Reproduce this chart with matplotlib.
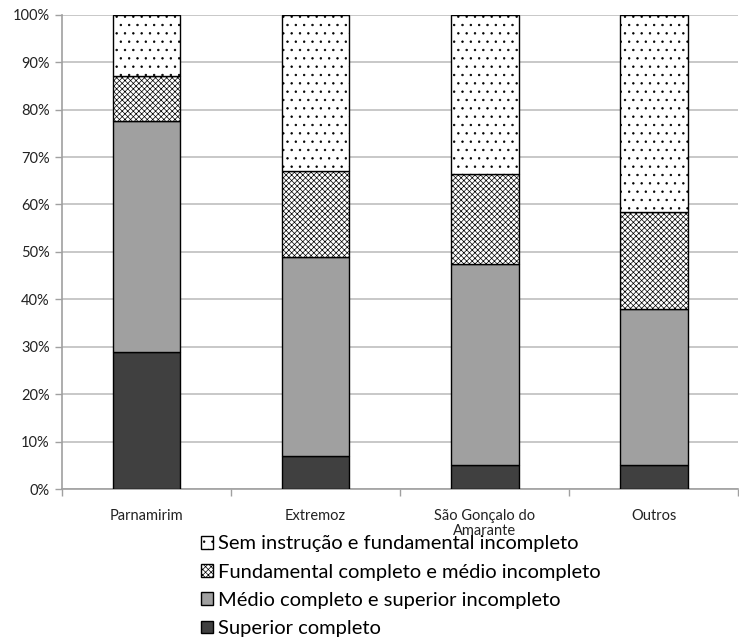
import matplotlib
matplotlib.use("Agg")
import matplotlib.pyplot as plt
import numpy as np

categories = ["Parnamirim", "Extremoz", "São Gonçalo do\nAmarante", "Outros"]
superior = [29.0, 7.0, 5.0, 5.0]
medio = [48.5, 42.0, 42.5, 33.0]
fundamental = [9.5, 18.0, 19.0, 20.5]
sem = [13.0, 33.0, 33.5, 41.5]

series_labels = ["Superior completo", "Médio completo e superior incompleto",
                 "Fundamental completo e médio incompleto",
                 "Sem instrução e fundamental incompleto"]

plt.rcParams['font.family'] = ['Lato', 'DejaVu Sans']
plt.rcParams['hatch.linewidth'] = 0.5

fig = plt.figure(figsize=(7.39, 6.41), dpi=100)
ax = fig.add_axes([0.084, 0.237, 0.915, 0.740])

x = np.arange(len(categories))
w = 0.4
bottom = np.zeros(len(categories))
styles = [dict(color="#404040", hatch=None),
          dict(color="#A0A0A0", hatch=None),
          dict(color="white", hatch="xxxxxx"),
          dict(color="white", hatch="..")]
handles = []
for vals, lab, st in zip([superior, medio, fundamental, sem], series_labels, styles):
    b = ax.bar(x, vals, w, bottom=bottom, color=st["color"], edgecolor="black",
               linewidth=1.0, hatch=st["hatch"], label=lab, zorder=3)
    handles.append(b)
    bottom += np.array(vals)

ax.set_xlim(-0.5, len(categories) - 0.5)
ax.set_ylim(0, 100)
ax.set_yticks(np.arange(0, 101, 10))
ax.set_yticklabels([f"{v}%" for v in range(0, 101, 10)], fontsize=10.5, color="#222222")
ax.yaxis.grid(True, color="#BFBFBF", linewidth=1.2, zorder=0)
ax.set_xticks(x)
ax.set_xticklabels(categories, fontsize=10.5, color="#222222", linespacing=1.1)
ax.tick_params(axis='x', length=0, pad=14)
ax.set_xticks(np.arange(-0.5, len(categories), 1.0), minor=True)
ax.tick_params(axis='x', which='minor', length=5, color="#A0A0A0", width=1)
ax.tick_params(axis='y', length=5, color="#A0A0A0", width=1, pad=4)
for s in ["top", "right"]:
    ax.spines[s].set_visible(False)
for s in ["left", "bottom"]:
    ax.spines[s].set_color("#A0A0A0")
    ax.spines[s].set_linewidth(1.2)

leg = fig.legend(handles[::-1], series_labels[::-1], loc="upper left",
                 bbox_to_anchor=(0.272, 0.165), frameon=False, fontsize=14.5,
                 handlelength=0.6, handleheight=0.6, handletextpad=0.25,
                 labelspacing=0.56, borderaxespad=0, borderpad=0)

fig.savefig("out.png", dpi=100)
